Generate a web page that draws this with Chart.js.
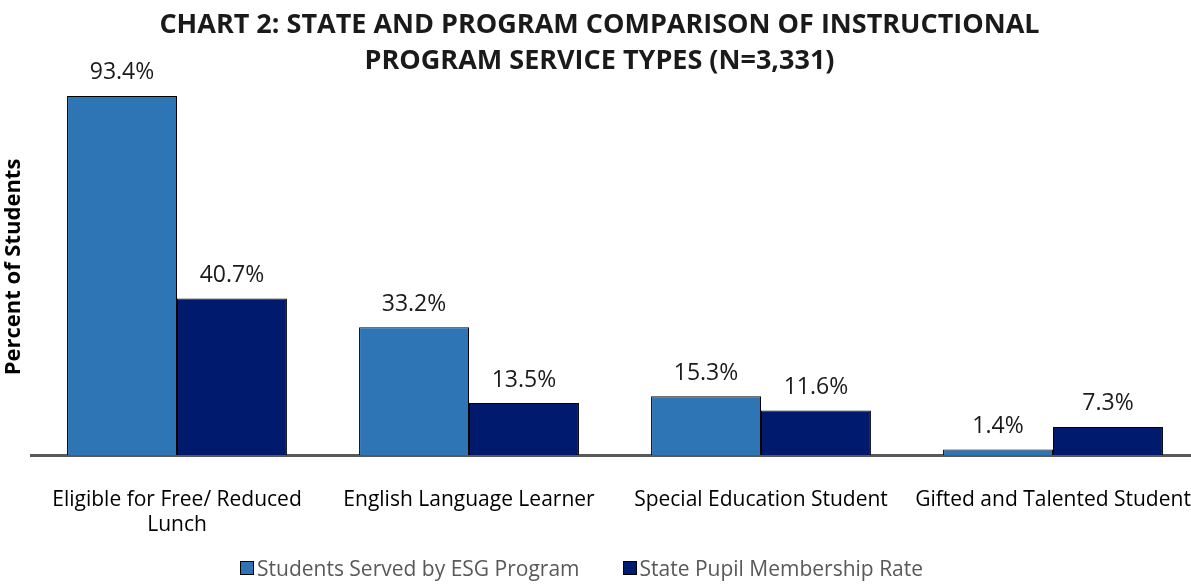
<!DOCTYPE html>
<html>
<head>
<meta charset="utf-8">
<script src="https://cdn.jsdelivr.net/npm/chart.js@4.4.0/dist/chart.umd.min.js"></script>
<style>
  html, body { margin: 0; padding: 0; background: #fff; overflow: hidden; }
  #wrap { position: relative; width: 1200px; height: 584px; }
  #legend { position: absolute; top: 553px; left: 240px; font: 21px/28px "Open Sans", sans-serif; color: #595959; white-space: nowrap; }
  #legend span.item { display: inline-flex; align-items: center; margin-right: 43px; }
  #legend i { display: inline-block; width: 12px; height: 12px; border: 1px solid #000; margin-right: 3px; }
</style>
</head>
<body>
<div id="wrap">
  <canvas id="chart" width="1200" height="584"></canvas>
  <div id="legend"></div>
</div>
<script>
// values
const categories = [
  ['Eligible for Free/ Reduced', 'Lunch'],
  'English Language Learner',
  'Special Education Student',
  'Gifted and Talented Student'
];
const seriesNames = ['Students Served by ESG Program', 'State Pupil Membership Rate'];
const esgValues = [93.4, 33.2, 15.3, 1.4];
const stateValues = [40.7, 13.5, 11.6, 7.3];
const colors = ['#2E75B6', '#001A6E'];

const font = '"Open Sans", sans-serif';

// percent labels above each bar
const barLabels = {
  id: 'barLabels',
  afterDatasetsDraw(chart) {
    const ctx = chart.ctx;
    ctx.save();
    ctx.font = '23px ' + font;
    ctx.fillStyle = '#1a1a1a';
    ctx.textAlign = 'center';
    ctx.textBaseline = 'middle';
    chart.data.datasets.forEach((ds, i) => {
      chart.getDatasetMeta(i).data.forEach((bar, j) => {
        ctx.fillText(ds.data[j].toFixed(1) + '%', bar.x, bar.y - 23);
      });
    });
    ctx.restore();
  }
};

new Chart(document.getElementById('chart'), {
  type: 'bar',
  data: {
    labels: categories,
    datasets: [
      { label: seriesNames[0], data: esgValues, backgroundColor: colors[0], borderColor: '#000', borderWidth: 1 },
      { label: seriesNames[1], data: stateValues, backgroundColor: colors[1], borderColor: '#000', borderWidth: 1 }
    ]
  },
  options: {
    responsive: false,
    animation: false,
    categoryPercentage: 0.753,
    barPercentage: 1,
    layout: { padding: { left: 0, right: 1, top: 0, bottom: 0 } },
    plugins: {
      legend: { display: false },
      tooltip: { enabled: false },
      title: {
        display: true,
        text: ['CHART 2: STATE AND PROGRAM COMPARISON OF INSTRUCTIONAL', 'PROGRAM SERVICE TYPES (N=3,331)'],
        color: '#1a1a1a',
        font: { family: font, size: 27, weight: 'bold', lineHeight: 1.333 },
        padding: { top: 7, bottom: 0 }
      }
    },
    scales: {
      x: {
        grid: { display: false },
        border: { display: true, color: '#595959', width: 3 },
        ticks: { color: '#000', font: { family: font, size: 21, lineHeight: 1.2 }, padding: 24, maxRotation: 0, autoSkip: false },
        afterFit: s => { s.height = 129; s.paddingLeft = 0; s.paddingRight = 0; }
      },
      y: {
        min: 0,
        max: 97.8,
        grid: { display: false },
        border: { display: false },
        ticks: { display: false },
        title: {
          display: true,
          text: 'Percent of Students',
          color: '#000',
          font: { family: font, size: 22, weight: 'bold' },
          padding: { top: 1, bottom: 0 }
        },
        afterFit: s => { s.width = 31; }
      }
    }
  },
  plugins: [barLabels]
});

document.getElementById('legend').innerHTML = seriesNames.map((n, i) =>
  `<span class="item"><i style="background:${colors[i]}"></i>${n}</span>`).join('');
</script>
</body>
</html>
